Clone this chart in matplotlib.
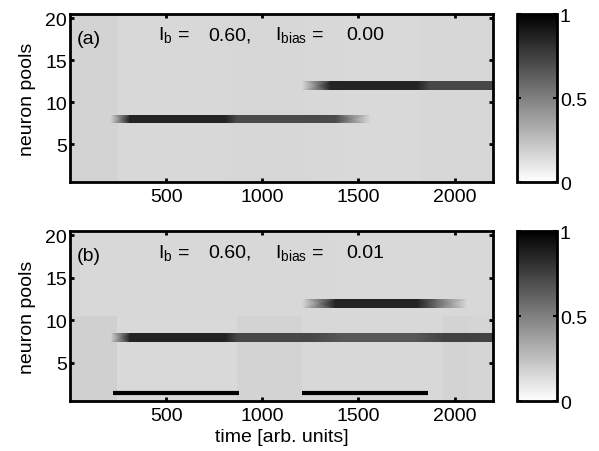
import matplotlib.pyplot as plt
import numpy as np

plt.rcParams['font.family'] = ['Liberation Sans', 'DejaVu Sans']
plt.rcParams['mathtext.fontset'] = 'custom'
plt.rcParams['mathtext.rm'] = 'Liberation Sans'
plt.rcParams['mathtext.it'] = 'Liberation Sans:italic'

FS = 14

# background activity bands (time edges, level)
bg_a_edges = [0, 250, 820, 1230, 1400, 1820, 2200]
bg_a_vals = [0.175, 0.155, 0.16, 0.155, 0.15, 0.16]

bg_b_up_edges = [0, 50, 1370, 1940, 2070, 2200]
bg_b_up_vals = [0.165, 0.155, 0.15, 0.155, 0.155]
bg_b_lo_edges = [0, 245, 870, 1205, 1940, 2070, 2200]
bg_b_lo_vals = [0.185, 0.15, 0.175, 0.155, 0.175, 0.165]

# active pools: keyframes (time, activity)
a8_t = [208, 312, 807, 868, 1380, 1560]
a8_v = [0.15, 0.86, 0.86, 0.71, 0.71, 0.15]
a12_t = [1207, 1354, 1805, 1870, 2200]
a12_v = [0.15, 0.86, 0.86, 0.72, 0.72]

b8_t = [208, 312, 807, 870, 1250, 1400, 1800, 1950, 2200]
b8_v = [0.15, 0.86, 0.86, 0.72, 0.72, 0.66, 0.66, 0.74, 0.74]
b12_t = [1207, 1380, 1805, 1900, 2066]
b12_v = [0.15, 0.86, 0.86, 0.6, 0.15]

# stimulus intervals (panel b)
stim_on = [222, 1207]
stim_off = [877, 1863]

cmap = 'gray_r'


def draw_bg(ax, edges, vals, y0, y1):
    X, Y = np.meshgrid(edges, [y0, y1])
    ax.pcolormesh(X, Y, np.array([vals]), cmap=cmap, vmin=0, vmax=1,
                  shading='flat')


def draw_pool(ax, pool, t, v):
    X = np.array([t, t])
    Y = np.array([[pool - 0.5] * len(t), [pool + 0.5] * len(t)])
    C = np.array([v, v])
    m = ax.pcolormesh(X, Y, C, cmap=cmap, vmin=0, vmax=1, shading='gouraud')
    clip = plt.Rectangle((t[0], pool - 0.5), t[-1] - t[0], 1.0,
                         transform=ax.transData, visible=False)
    ax.add_patch(clip)
    m.set_clip_path(clip)


def style(ax):
    ax.set_xlim(0, 2200)
    ax.set_ylim(0.5, 20.5)
    ax.set_xticks([500, 1000, 1500, 2000])
    ax.set_yticks([5, 10, 15, 20])
    ax.tick_params(direction='in', length=3, width=2, top=True, right=True,
                   labelsize=FS, pad=4)
    ax.tick_params(axis='y', pad=2)
    for s in ax.spines.values():
        s.set_linewidth(2)
    ax.set_ylabel('neuron pools', fontsize=FS, labelpad=7)


def label(ax, tag, bias):
    ax.text(35, 17.1, tag, fontsize=FS)
    ax.text(460, 17.5, r'$\mathrm{I_b}$ =', fontsize=FS)
    ax.text(719, 17.5, '0.60,', fontsize=FS)
    ax.text(1068, 17.5, r'$\mathrm{I_{bias}}$ =', fontsize=FS)
    ax.text(1437, 17.5, bias, fontsize=FS)


def add_cbar(fig, rect, sm):
    cax = fig.add_axes(rect)
    cb = fig.colorbar(sm, cax=cax, ticks=[0, 0.5, 1])
    cb.ax.set_yticklabels(['0', '0.5', '1'])
    cb.outline.set_linewidth(2)
    cb.ax.tick_params(direction='in', length=3, width=1.5, left=True,
                      right=True, labelsize=FS, pad=2)


fig = plt.figure(figsize=(5.99, 4.52), dpi=100)
ax1 = fig.add_axes([0.1169, 0.5951, 0.7062, 0.3717])
ax2 = fig.add_axes([0.1169, 0.1106, 0.7062, 0.3761])

sm = plt.cm.ScalarMappable(cmap=cmap, norm=plt.Normalize(0, 1))

# panel (a)
draw_bg(ax1, bg_a_edges, bg_a_vals, 0.5, 20.5)
draw_pool(ax1, 8, a8_t, a8_v)
draw_pool(ax1, 12, a12_t, a12_v)
style(ax1)
label(ax1, '(a)', '0.00')
add_cbar(fig, [0.8631, 0.5951, 0.0668, 0.3717], sm)

# panel (b)
draw_bg(ax2, bg_b_lo_edges, bg_b_lo_vals, 0.5, 10.5)
draw_bg(ax2, bg_b_up_edges, bg_b_up_vals, 10.5, 20.5)
draw_pool(ax2, 8, b8_t, b8_v)
draw_pool(ax2, 12, b12_t, b12_v)
for t0, t1 in zip(stim_on, stim_off):
    ax2.plot([t0, t1], [1.45, 1.45], color='k', lw=3, solid_capstyle='butt')
style(ax2)
label(ax2, '(b)', '0.01')
ax2.set_xlabel('time [arb. units]', fontsize=FS, labelpad=3)
add_cbar(fig, [0.8631, 0.1106, 0.0668, 0.3761], sm)

fig.savefig('out.png', dpi=100)
